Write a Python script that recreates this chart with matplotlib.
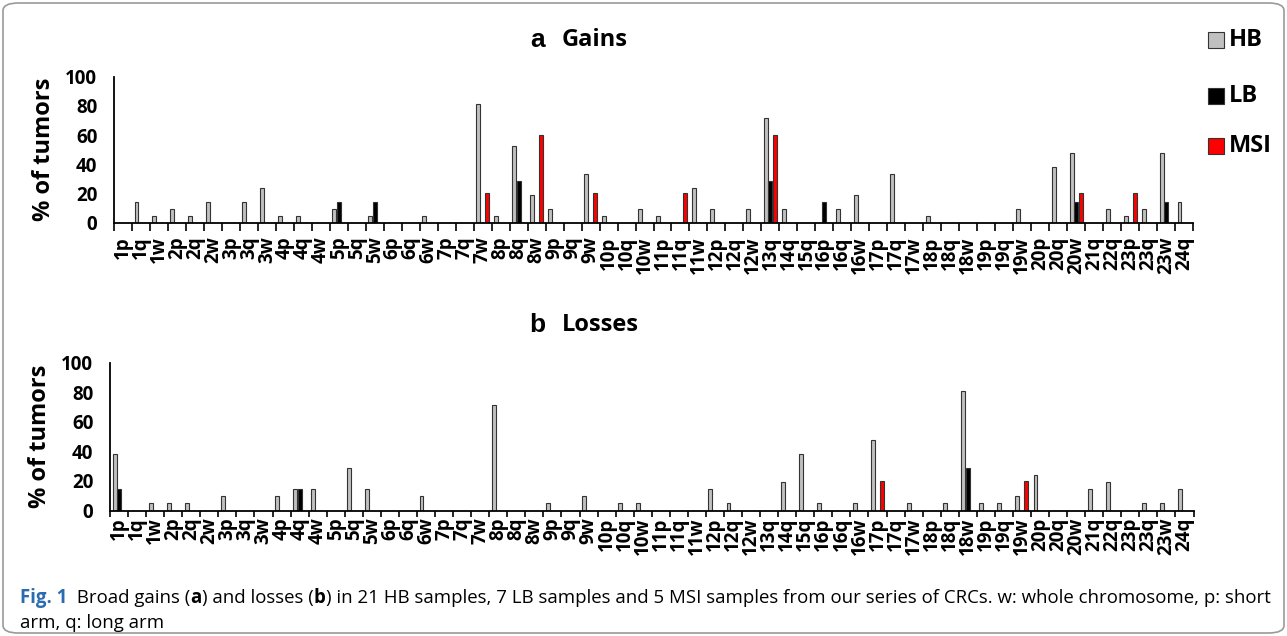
import matplotlib
matplotlib.use("Agg")
import matplotlib.pyplot as plt
from matplotlib.patches import Rectangle, FancyBboxPatch
import numpy as np

# chromosome arms (w: whole, p: short arm, q: long arm)
arms = ["1p", "1q", "1w", "2p", "2q", "2w", "3p", "3q", "3w", "4p", "4q", "4w",
        "5p", "5q", "5w", "6p", "6q", "6w", "7p", "7q", "7w", "8p", "8q", "8w",
        "9p", "9q", "9w", "10p", "10q", "10w", "11p", "11q", "11w", "12p", "12q", "12w",
        "13q", "14q", "15q", "16p", "16q", "16w", "17p", "17q", "17w", "18p", "18q", "18w",
        "19p", "19q", "19w", "20p", "20q", "20w", "21q", "22q", "23p", "23q", "23w", "24q"]

# % of tumors, gains
gain_hb = [0, 14.3, 4.8, 9.5, 4.8, 14.3, 0, 14.3, 23.8, 4.8, 4.8, 0,
           9.5, 0, 4.8, 0, 0, 4.8, 0, 0, 81.0, 4.8, 52.4, 19.0,
           9.5, 0, 33.3, 4.8, 0, 9.5, 4.8, 0, 23.8, 9.5, 0, 9.5,
           71.4, 9.5, 0, 0, 9.5, 19.0, 0, 33.3, 0, 4.8, 0, 0,
           0, 0, 9.5, 0, 38.1, 47.6, 0, 9.5, 4.8, 9.5, 47.6, 14.3]
gain_lb = {"5p": 14.3, "5w": 14.3, "8q": 28.6, "13q": 28.6, "16p": 14.3,
           "20w": 14.3, "23w": 14.3}
gain_msi = {"7w": 20, "8w": 60, "9w": 20, "11q": 20, "13q": 60, "20w": 20, "23p": 20}

# % of tumors, losses
loss_hb = [38.1, 0, 4.8, 4.8, 4.8, 0, 9.5, 0, 0, 9.5, 14.3, 14.3,
           0, 28.6, 14.3, 0, 0, 9.5, 0, 0, 0, 71.4, 0, 0,
           4.8, 0, 9.5, 0, 4.8, 4.8, 0, 0, 0, 14.3, 4.8, 0,
           0, 19.0, 38.1, 4.8, 0, 4.8, 47.6, 0, 4.8, 0, 4.8, 81.0,
           4.8, 4.8, 9.5, 23.8, 0, 0, 14.3, 19.0, 0, 4.8, 4.8, 14.3]
loss_lb = {"1p": 14.3, "4q": 14.3, "18w": 28.6}
loss_msi = {"17p": 20, "19w": 20}

series_names = ["HB", "LB", "MSI"]
colors = ["#c0c0c0", "#000000", "#ff0000"]

W, H = 1287, 636
fig = plt.figure(figsize=(W / 100, H / 100), dpi=100)

lab_font = ["Open Sans", "DejaVu Sans"]


def expand(d):
    return [d.get(a, 0) for a in arms]


def draw_panel(rect, hb, lb, msi, lab_pad, tick_len):
    ax = fig.add_axes(rect)
    x = np.arange(len(arms))
    for vals, off, c in zip([hb, expand(lb), expand(msi)], [-0.25, 0, 0.25], colors):
        vals = np.array(vals)
        m = vals > 0
        ax.bar(x[m] + off, vals[m], width=0.22, color=c, edgecolor="#333333",
               linewidth=0.8, zorder=2)
    ax.set_xlim(-0.5, len(arms) - 0.5)
    ax.set_ylim(0, 100)
    ax.set_yticks([0, 20, 40, 60, 80, 100])
    ax.set_xticks(x)
    ax.set_xticklabels(arms, rotation=90, fontsize=13.5, fontweight="bold",
                       family=lab_font)
    ax.set_xticks(np.arange(len(arms) + 1) - 0.5, minor=True)
    ax.tick_params(axis="x", which="major", length=0, pad=lab_pad)
    ax.tick_params(axis="x", which="minor", length=tick_len, width=1.2,
                   direction="out")
    ax.tick_params(axis="y", length=0, pad=12)
    for t in ax.get_yticklabels():
        t.set_fontsize(13.5)
        t.set_fontweight("bold")
        t.set_family(lab_font)
    for s in ["top", "right"]:
        ax.spines[s].set_visible(False)
    for s in ["left", "bottom"]:
        ax.spines[s].set_linewidth(1.3)
    ax.set_ylabel("% of tumors", fontsize=17, fontweight="bold", family=lab_font,
                  labelpad=7)
    return ax


ax_a = draw_panel([114 / W, 1 - 222.7 / H, (1193 - 114) / W, 146 / H],
                  gain_hb, gain_lb, gain_msi, 10, 5.5)
ax_b = draw_panel([110 / W, 1 - 510.5 / H, (1193.5 - 110) / W, 148 / H],
                  loss_hb, loss_lb, loss_msi, 5, 4.5)

# panel titles
for ytop, letter, word in [(40, "a", "Gains"), (325, "b", "Losses")]:
    fig.text(545 / W, 1 - ytop / H, letter, fontsize=19, fontweight="bold",
             family="Liberation Sans", ha="right", va="center")
    fig.text(562 / W, 1 - ytop / H, word, fontsize=17, fontweight="bold",
             family=lab_font, ha="left", va="center")

# legend
for yc, name, c in zip([40, 96, 146], series_names, colors):
    fig.patches.append(Rectangle((1208 / W, 1 - (yc + 8) / H), 16 / W, 16 / H,
                                 transform=fig.transFigure, facecolor=c,
                                 edgecolor="#333333", linewidth=0.8))
    fig.text(1229 / W, 1 - yc / H, name, fontsize=17, fontweight="bold",
             family=lab_font, ha="left", va="center")

# frame
fig.patches.append(FancyBboxPatch((3 / W, 3 / H), (W - 6) / W, (H - 6) / H,
                                  boxstyle="round,pad=0,rounding_size=0.012",
                                  transform=fig.transFigure, facecolor="none",
                                  edgecolor="#9a9a9a", linewidth=1.2))

# caption, built piece by piece
cap_font = ["Open Sans", "DejaVu Sans"]
cap_size = 13.4
blue = "#2b6cb0"
line1 = [("Fig. 1", "bold", blue), ("  Broad gains (", "normal", "black"),
         ("a", "bold", "black"), (") and losses (", "normal", "black"),
         ("b", "bold", "black"),
         (") in 21 HB samples, 7 LB samples and 5 MSI samples from our series of CRCs. "
          "w: whole chromosome, p: short", "normal", "black")]
fig.canvas.draw()
renderer = fig.canvas.get_renderer()
xpos = 20
for txt, wt, col in line1:
    t = fig.text(xpos / W, 1 - 598 / H, txt, fontsize=cap_size, fontweight=wt,
                 color=col, family=cap_font, ha="left", va="center")
    bb = t.get_window_extent(renderer)
    xpos += bb.width
fig.text(20 / W, 1 - 623 / H, "arm, q: long arm", fontsize=cap_size,
         family=cap_font, ha="left", va="center")

fig.savefig("out.png", dpi=100)
